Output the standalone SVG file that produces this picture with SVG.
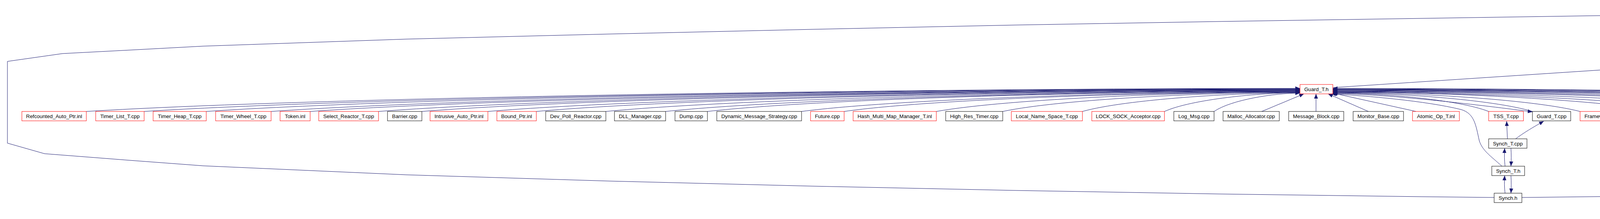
<svg xmlns="http://www.w3.org/2000/svg" width="6240" height="560" viewBox="0 0 6240 560">
<style>
.n rect{fill:#ffffff;stroke:#000000;stroke-width:1}
.n.r rect{stroke:#ff0000}
.n.g rect{fill:#bfbfbf}
.n text{font-family:"Liberation Sans","DejaVu Sans",Arial,sans-serif;font-size:13.3px;fill:#000000;text-anchor:middle}
#edges path{fill:none;stroke:#191970;stroke-width:1;marker-end:url(#a)}
</style>
<defs>
<marker id="a" markerUnits="userSpaceOnUse" markerWidth="12" markerHeight="10" viewBox="0 0 12 10" refX="12" refY="5" orient="auto"><path d="M0,0L12,5L0,10z" fill="#191970"/></marker>
</defs>
<rect width="6240" height="560" fill="#ffffff"/>
<g id="edges">
<path d="M221,285 C842,247 2396,226 3328,226"/>
<path d="M369,285 C961,247 2440,227 3328,227"/>
<path d="M528,285 C1088,247 2488,227 3328,227"/>
<path d="M694,285 C1221,248 2538,228 3328,228"/>
<path d="M794,285 C1301,249 2568,229 3328,229"/>
<path d="M969,285 C1441,249 2620,229 3328,229"/>
<path d="M1080,285 C1530,249 2654,230 3328,230"/>
<path d="M1249,285 C1665,250 2704,231 3328,231"/>
<path d="M1373,285 C1764,250 2742,231 3328,231"/>
<path d="M1551,285 C1906,251 2795,232 3328,232"/>
<path d="M1704,285 C2029,251 2841,233 3328,233"/>
<path d="M1811,285 C2114,251 2873,233 3328,233"/>
<path d="M2052,285 C2307,252 2945,234 3328,234"/>
<path d="M2161,285 C2394,252 2978,235 3328,235"/>
<path d="M2397,285 C2583,252 3049,235 3328,235"/>
<path d="M2567,285 C2719,253 3100,236 3328,236"/>
<path d="M2771,285 C2882,254 3161,237 3328,237"/>
<path d="M2981,285 C3050,254 3224,237 3328,237"/>
<path d="M3108,285 C3152,255 3262,238 3328,238"/>
<path d="M3230,285 L3338,240"/>
<path d="M3369,285 L3369,240"/>
<path d="M3503,285 L3400,240"/>
<path d="M3625,285 L3412,238"/>
<path d="M3811,285 C3731,254 3532,238 3412,238"/>
<path d="M3923,285 C3821,254 3565,237 3412,237"/>
<path d="M3412,239 C3565,241 3800,270 3923,286"/>
<path d="M4045,285 C3918,253 3602,236 3412,236"/>
<path d="M4251,285 C4083,253 3664,235 3412,235"/>
<path d="M4376,285 C4183,253 3701,235 3412,235"/>
<path d="M4528,285 C4305,252 3747,234 3412,234"/>
<path d="M4728,285 C4465,251 3807,233 3412,233"/>
<path d="M4853,285 C4565,251 3844,232 3412,232"/>
<path d="M5021,285 C4699,250 3895,231 3412,231"/>
<path d="M5192,285 C4836,249 3946,230 3412,230"/>
<path d="M5339,285 C4954,249 3990,229 3412,229"/>
<path d="M5448,285 C5041,249 4023,229 3412,229"/>
<path d="M5675,285 C5222,248 4091,228 3412,228"/>
<path d="M5803,285 C5325,247 4129,227 3412,227"/>
<path d="M5971,285 C5459,247 4180,226 3412,226"/>
<path d="M3845,425 C3815,398 3795,385 3787,360 C3778,320 3775,290 3740,280 C3650,258 3500,245 3408,240"/>
<path d="M3859,355 L3857,310"/>
<path d="M3880,355 C3900,340 3925,325 3952,310"/>
<path d="M3853,425 C3851,410 3851,395 3852,379"/>
<path d="M3868,379 C3869,395 3869,410 3868,425"/>
<path d="M3853,494 C3851,480 3851,465 3852,449"/>
<path d="M3868,449 C3869,465 3869,480 3868,494"/>
<path d="M3825,505 L3640,503 L3120,496 L2600,487 L2080,476 L1560,463 L1040,447 L520,424 L333,410 L114,393 L19,366 L19,157 L160,137 L333,128 L520,118 L1040,100 L1560,87 L2080,75 L2600,64 L3120,55 L3640,47 L4160,39 L4680,32 L5200,24 L5720,18 L5768,18"/>
<path d="M3896,505 L4160,502 L4680,492 L5200,477 L5720,449 L6003,425 L6163,398 L6221,367 L6221,211 L6212,190 L6193,173 L6127,145 L6040,127 L5894,100"/>
<path d="M3412,224 L4372,161"/>
<path d="M4463,154 L5744,92"/>
<path d="M6129,216 C6128,185 6120,160 6100,145 C6060,125 5990,115 5896,101"/>
<path d="M5808,362 C5950,350 6080,335 6137,317 C6160,305 6155,270 6139,240"/>
<path d="M5711,358 L5424,309"/>
<path d="M5727,285 L5727,240"/>
<path d="M5737,216 C5755,180 5780,135 5806,101"/>
<path d="M5565,285 L5795,101"/>
<path d="M5867,285 C5845,235 5835,205 5832,170 C5828,140 5825,120 5821,101"/>
<path d="M6035,285 C5995,260 5950,235 5905,180 L5834,102"/>
<path d="M5967,146 C5940,135 5905,118 5857,101"/>
<path d="M5817,76 L5817,31"/>
<path d="M5945,76 C5920,65 5900,55 5853,32"/>
</g>
<g id="n_RW_Mutex_h" class="n g"><rect x="5768" y="7" width="99" height="24"/><text x="5817.5" y="23.5">RW_Mutex.h</text></g>
<g id="n_RW_Thread_Mutex_h" class="n"><rect x="5744" y="76" width="148" height="24"/><text x="5818" y="92.5">RW_Thread_Mutex.h</text></g>
<g id="n_RW_Mutex_cpp" class="n"><rect x="5915" y="76" width="113" height="24"/><text x="5971.5" y="92.5">RW_Mutex.cpp</text></g>
<g id="n_Guard_T_inl" class="n"><rect x="4372" y="146" width="91" height="24"/><text x="4417.5" y="162.5">Guard_T.inl</text></g>
<g id="n_Pagefile_Memory_Pool_cpp" class="n"><rect x="5905" y="146" width="186" height="24"/><text x="5998" y="162.5">Pagefile_Memory_Pool.cpp</text></g>
<g id="n_Guard_T_h" class="n r"><rect x="3328" y="216" width="84" height="24"/><text x="3370" y="232.5">Guard_T.h</text></g>
<g id="n_Filecache_h" class="n"><rect x="5684" y="216" width="89" height="24"/><text x="5728.5" y="232.5">Filecache.h</text></g>
<g id="n_MEM_SAP_inl" class="n"><rect x="6079" y="216" width="102" height="24"/><text x="6130" y="232.5">MEM_SAP.inl</text></g>
<g id="n_Refcounted_Auto_Ptr_inl" class="n r"><rect x="56" y="285" width="165" height="24"/><text x="138.5" y="301.5">Refcounted_Auto_Ptr.inl</text></g>
<g id="n_Timer_List_T_cpp" class="n r"><rect x="245" y="285" width="124" height="24"/><text x="307" y="301.5">Timer_List_T.cpp</text></g>
<g id="n_Timer_Heap_T_cpp" class="n r"><rect x="392" y="285" width="136" height="24"/><text x="460" y="301.5">Timer_Heap_T.cpp</text></g>
<g id="n_Timer_Wheel_T_cpp" class="n r"><rect x="552" y="285" width="142" height="24"/><text x="623" y="301.5">Timer_Wheel_T.cpp</text></g>
<g id="n_Token_inl" class="n r"><rect x="717" y="285" width="77" height="24"/><text x="755.5" y="301.5">Token.inl</text></g>
<g id="n_Select_Reactor_T_cpp" class="n r"><rect x="816" y="285" width="153" height="24"/><text x="892.5" y="301.5">Select_Reactor_T.cpp</text></g>
<g id="n_Barrier_cpp" class="n"><rect x="992" y="285" width="88" height="24"/><text x="1036" y="301.5">Barrier.cpp</text></g>
<g id="n_Intrusive_Auto_Ptr_inl" class="n r"><rect x="1101" y="285" width="148" height="24"/><text x="1175" y="301.5">Intrusive_Auto_Ptr.inl</text></g>
<g id="n_Bound_Ptr_inl" class="n r"><rect x="1272" y="285" width="101" height="24"/><text x="1322.5" y="301.5">Bound_Ptr.inl</text></g>
<g id="n_Dev_Poll_Reactor_cpp" class="n"><rect x="1397" y="285" width="154" height="24"/><text x="1474" y="301.5">Dev_Poll_Reactor.cpp</text></g>
<g id="n_DLL_Manager_cpp" class="n"><rect x="1573" y="285" width="131" height="24"/><text x="1638.5" y="301.5">DLL_Manager.cpp</text></g>
<g id="n_Dump_cpp" class="n"><rect x="1728" y="285" width="83" height="24"/><text x="1769.5" y="301.5">Dump.cpp</text></g>
<g id="n_Dynamic_Message_Strategy_cpp" class="n"><rect x="1835" y="285" width="217" height="24"/><text x="1943.5" y="301.5">Dynamic_Message_Strategy.cpp</text></g>
<g id="n_Future_cpp" class="n r"><rect x="2075" y="285" width="86" height="24"/><text x="2118" y="301.5">Future.cpp</text></g>
<g id="n_Hash_Multi_Map_Manager_T_inl" class="n r"><rect x="2184" y="285" width="213" height="24"/><text x="2290.5" y="301.5">Hash_Multi_Map_Manager_T.inl</text></g>
<g id="n_High_Res_Timer_cpp" class="n"><rect x="2421" y="285" width="146" height="24"/><text x="2494" y="301.5">High_Res_Timer.cpp</text></g>
<g id="n_Local_Name_Space_T_cpp" class="n r"><rect x="2589" y="285" width="182" height="24"/><text x="2680" y="301.5">Local_Name_Space_T.cpp</text></g>
<g id="n_LOCK_SOCK_Acceptor_cpp" class="n r"><rect x="2795" y="285" width="186" height="24"/><text x="2888" y="301.5">LOCK_SOCK_Acceptor.cpp</text></g>
<g id="n_Log_Msg_cpp" class="n"><rect x="3005" y="285" width="103" height="24"/><text x="3056.5" y="301.5">Log_Msg.cpp</text></g>
<g id="n_Malloc_Allocator_cpp" class="n"><rect x="3131" y="285" width="144" height="24"/><text x="3203" y="301.5">Malloc_Allocator.cpp</text></g>
<g id="n_Message_Block_cpp" class="n"><rect x="3299" y="285" width="141" height="24"/><text x="3369.5" y="301.5">Message_Block.cpp</text></g>
<g id="n_Monitor_Base_cpp" class="n"><rect x="3464" y="285" width="129" height="24"/><text x="3528.5" y="301.5">Monitor_Base.cpp</text></g>
<g id="n_Atomic_Op_T_inl" class="n r"><rect x="3616" y="285" width="120" height="24"/><text x="3676" y="301.5">Atomic_Op_T.inl</text></g>
<g id="n_TSS_T_cpp" class="n r"><rect x="3811" y="285" width="89" height="24"/><text x="3855.5" y="301.5">TSS_T.cpp</text></g>
<g id="n_Guard_T_cpp" class="n"><rect x="3923" y="285" width="98" height="24"/><text x="3972" y="301.5">Guard_T.cpp</text></g>
<g id="n_Framework_Component_inl" class="n r"><rect x="4045" y="285" width="182" height="24"/><text x="4136" y="301.5">Framework_Component.inl</text></g>
<g id="n_Singleton_cpp" class="n r"><rect x="4251" y="285" width="102" height="24"/><text x="4302" y="301.5">Singleton.cpp</text></g>
<g id="n_Service_Gestalt_h" class="n r"><rect x="4376" y="285" width="128" height="24"/><text x="4440" y="301.5">Service_Gestalt.h</text></g>
<g id="n_Hash_Map_Manager_T_inl" class="n r"><rect x="4528" y="285" width="177" height="24"/><text x="4616.5" y="301.5">Hash_Map_Manager_T.inl</text></g>
<g id="n_Free_List_cpp" class="n r"><rect x="4728" y="285" width="103" height="24"/><text x="4779.5" y="301.5">Free_List.cpp</text></g>
<g id="n_Timer_Queue_T_cpp" class="n r"><rect x="4853" y="285" width="144" height="24"/><text x="4925" y="301.5">Timer_Queue_T.cpp</text></g>
<g id="n_Message_Queue_T_h" class="n r"><rect x="5021" y="285" width="148" height="24"/><text x="5095" y="301.5">Message_Queue_T.h</text></g>
<g id="n_Map_Manager_inl" class="n r"><rect x="5192" y="285" width="124" height="24"/><text x="5254" y="301.5">Map_Manager.inl</text></g>
<g id="n_Malloc_T_h" class="n r"><rect x="5339" y="285" width="85" height="24"/><text x="5381.5" y="301.5">Malloc_T.h</text></g>
<g id="n_Based_Pointer_Repository_cpp" class="n"><rect x="5448" y="285" width="204" height="24"/><text x="5550" y="301.5">Based_Pointer_Repository.cpp</text></g>
<g id="n_Filecache_cpp" class="n"><rect x="5675" y="285" width="104" height="24"/><text x="5727" y="301.5">Filecache.cpp</text></g>
<g id="n_Object_Manager_cpp" class="n"><rect x="5803" y="285" width="145" height="24"/><text x="5875.5" y="301.5">Object_Manager.cpp</text></g>
<g id="n_RW_Thread_Mutex_cpp" class="n"><rect x="5971" y="285" width="162" height="24"/><text x="6052" y="301.5">RW_Thread_Mutex.cpp</text></g>
<g id="n_Synch_T_cpp" class="n"><rect x="3811" y="355" width="98" height="24"/><text x="3860" y="371.5">Synch_T.cpp</text></g>
<g id="n_MEM_SAP_h" class="n r"><rect x="5711" y="355" width="97" height="24"/><text x="5759.5" y="371.5">MEM_SAP.h</text></g>
<g id="n_Synch_T_h" class="n"><rect x="3819" y="425" width="84" height="24"/><text x="3861" y="441.5">Synch_T.h</text></g>
<g id="n_Synch_h" class="n"><rect x="3825" y="494" width="71" height="24"/><text x="3860.5" y="510.5">Synch.h</text></g>
</svg>
